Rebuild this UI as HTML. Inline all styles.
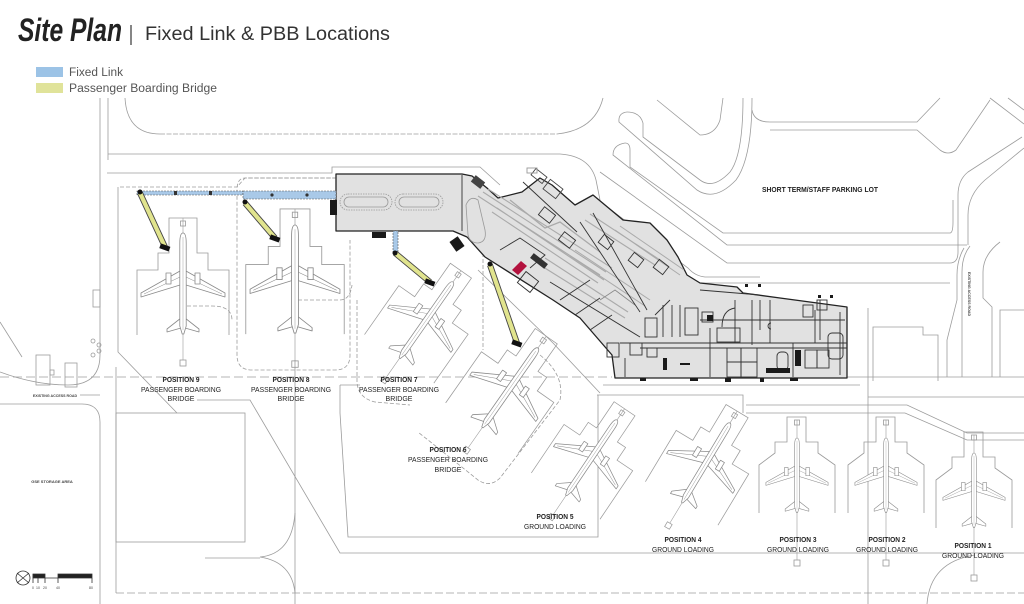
<!DOCTYPE html>
<html><head><meta charset="utf-8">
<style>
html,body{margin:0;padding:0;background:#fff;}
svg{display:block;}
text{font-family:"Liberation Sans",sans-serif;}
</style></head><body>
<svg width="1024" height="604" viewBox="0 0 1024 604" xmlns="http://www.w3.org/2000/svg">
<defs>
 <g id="pl" stroke="#8a8a8a" stroke-width="0.8" fill="#fff" stroke-linejoin="round">
   <path d="M-3,38 L-42,60 L-42,64 L-3,52 Z M3,38 L42,60 L42,64 L3,52 Z"/>
   <path d="M-3,44 L-39,61 M3,44 L39,61" fill="none" stroke-width="0.5"/>
   <rect x="-17" y="40" width="5" height="11"/><rect x="12" y="40" width="5" height="11"/>
   <path d="M-2,85 L-16,96 L-16,99 L-2,95 Z M2,85 L16,96 L16,99 L2,95 Z"/>
   <path d="M-3.2,10 Q-3.2,0 0,0 Q3.2,0 3.2,10 L3.2,93 L0.8,101 L-0.8,101 L-3.2,93 Z"/>
   <path d="M0,4 V97" fill="none" stroke-width="0.4"/>
 </g>
 <g id="st" fill="none" stroke="#9a9a9a" stroke-width="0.8">
   <path d="M-46,102 V37 H-25 V20 H-14 V-15 H14 V20 H25 V37 H46 V102"/>
   <path d="M0,-15 V127" stroke-width="0.6"/>
   <rect x="-2.5" y="-12" width="5" height="5"/>
   <rect x="-3" y="127" width="6" height="6"/>
 </g>
 <g id="st2" fill="none" stroke="#9a9a9a" stroke-width="0.8">
   <path d="M-38,75 V27 L-22,15 V4 H-10 V-21 H9 V4 H21 V15 L38,27 V75"/>
   <path d="M0,-18 V122" stroke-width="0.6"/>
   <rect x="-2.5" y="-18" width="5" height="5"/>
   <rect x="-3" y="122" width="6" height="6"/>
 </g>
</defs>

<!-- Title -->
<text x="18" y="41" font-family="Liberation Serif, serif" font-style="italic" font-weight="bold" font-size="32" fill="#222" textLength="104" lengthAdjust="spacingAndGlyphs">Site Plan</text>
<line x1="131" y1="25" x2="131" y2="45" stroke="#444" stroke-width="1.3"/>
<text x="145" y="40" font-size="19" fill="#333" textLength="245" lengthAdjust="spacingAndGlyphs">Fixed Link &amp; PBB Locations</text>

<!-- Legend -->
<rect x="36" y="67" width="27" height="10" fill="#9cc3e6"/>
<text x="69" y="76" font-size="11.5" fill="#555" textLength="54" lengthAdjust="spacingAndGlyphs">Fixed Link</text>
<rect x="36" y="83" width="27" height="10" fill="#e0e39a"/>
<text x="69" y="92" font-size="11.5" fill="#555" textLength="148" lengthAdjust="spacingAndGlyphs">Passenger Boarding Bridge</text>

<!-- Site lines -->
<g fill="none" stroke="#9c9c9c" stroke-width="0.8">
  <path d="M100,98 V355 Q100,385 68,385 Q35,385 0,372"/>
  <path d="M108,98 V160"/>
  <path d="M125,98 Q127,134 160,134"/>
  <path d="M160,134 H557" stroke-dasharray="5,1.5"/>
  <path d="M557,134 Q595,130 603,98"/>
  <path d="M108,154 H560 Q590,156 596,180 L600,200"/>
  <path d="M107,173 H332 V167 H480 L500,185"/>
  <path d="M120,187 H237 L245,178 H335" stroke-dasharray="4,2"/>
  <path d="M118,187 V352 L177,413"/>
  <rect x="116" y="413" width="129" height="129"/>
  <path d="M116,367 V593"/>
  <path d="M116,593 H1024" stroke-dasharray="8,3"/>
  <path d="M295,360 V604"/>
  <path d="M197,400 H250 L340,553 H1024"/>
  <path d="M340,385 H360 M340,385 V413 L348,537 H598 V395"/>
  <path d="M295,513 Q292,554 260,557 Q292,562 295,593 M205,558 H260"/>
  <path d="M0,404 H82 Q100,404 100,422 V604"/>
  <path d="M0,377 H612" stroke-dasharray="9,4"/>
  <path d="M0,322 L22,357"/>
  <rect x="36" y="355" width="14" height="30"/>
  <rect x="65" y="363" width="12" height="24"/>
  <rect x="50" y="370" width="4" height="5"/>
  <rect x="93" y="290" width="7" height="17"/>
  <circle cx="93" cy="341" r="2"/><circle cx="99" cy="345" r="2"/><circle cx="99" cy="351" r="2"/><circle cx="93" cy="355" r="2"/>
  <path d="M80,395 H100"/>
  <path d="M337,178 H245 Q237,178 237,190 V355 Q237,370 252,370 H335 Q350,370 350,355 V240" stroke-dasharray="4,2"/>
  <path d="M187,306 H212 Q232,306 232,320" stroke-dasharray="4,2"/>
  <path d="M298,300 H340 Q350,300 352,285" stroke-dasharray="4,2"/>
  <path d="M540,355 Q565,375 560,400 L500,478 Q490,488 478,480 L418,432" stroke-dasharray="4,2"/>
  <path d="M357,300 V382 Q358,398 375,402 L410,405" stroke-dasharray="4,2"/>
  <path d="M483,235 V350" stroke-dasharray="4,2"/>
  <path d="M478,270 L553,343 L600,393"/>
  <path d="M603,385 H860"/>
  <path d="M597,395 H743 V413"/>
  <path d="M746,405 H907 L967,433 H1024"/>
  <path d="M746,413 H905 L967,440 H1024"/>
  <path d="M847,377 H1024"/>
  <path d="M868,397 H1024"/>
  <path d="M868,308 V604"/>
  <path d="M927,604 Q930,562 975,555"/>
  <path d="M873,381 V327 H923 V335 H938 V381"/>
  <path d="M1000,377 V310 H1024"/>
  <path d="M947,377 V340 L957,300 V275 Q957,260 964,248"/>
  <path d="M962,377 V272 Q962,256 970,246"/>
  <path d="M992,377 V307 L983,298 V272 Q983,255 1000,242"/>
  <path d="M700,283 H950"/>
  <path d="M625,143 Q630,143 630,150 V167 L723,233 H950 Q953,233 953,222 V200"/>
  <path d="M625,143 Q613,145 613,155 L727,245 H967"/>
  <path d="M600,172 L727,263 H950 Q958,263 958,252 V195 Q958,180 968,172 L1022,137"/>
  <path d="M598,200 L688,268 Q695,276 705,277 H760"/>
  <path d="M643,123 V137 L700,180 Q713,190 730,172 Q743,155 743,98"/>
  <path d="M627,112 Q618,113 619,122 L697,190 Q715,202 736,180 Q752,158 752,98"/>
  <path d="M627,112 Q640,112 643,123"/>
  <path d="M657,100 L700,135 Q715,135 720,120 L723,98"/>
  <path d="M752,110 Q754,122 770,122 H917 L940,98"/>
  <path d="M770,130 H917 L940,150 Q948,156 956,150 L990,100"/>
  <path d="M990,98 L1024,124 M1008,98 L1024,110"/>
  <path d="M1024,148 L985,180 Q968,195 968,215 V245"/>
</g>

<!-- scale bar -->
<g stroke="#333" fill="none" stroke-width="0.8">
  <circle cx="23" cy="578" r="7"/>
  <path d="M17,573 L29,583 M29,573 L17,583"/>
  <path d="M33,574 H45 V578 H33 Z" fill="#222"/>
  <path d="M45,578 H58 V574 H92 V578 Z" fill="#222"/>
  <path d="M33,574 V583 M38,578 V583 M45,578 V583 M58,578 V583 M92,578 V583"/>
</g>
<g font-size="3.5" fill="#444">
  <text x="32" y="589">0</text><text x="36" y="589">10</text><text x="43" y="589">20</text><text x="56" y="589">40</text><text x="89" y="589">80</text>
</g>
<text x="52" y="483" font-size="4" fill="#444" text-anchor="middle" font-weight="bold">GSE STORAGE AREA</text>
<text x="55" y="397" font-size="3.6" fill="#444" text-anchor="middle" font-weight="bold">EXISTING ACCESS ROAD</text>
<text x="968" y="294" font-size="3.6" fill="#444" text-anchor="middle" font-weight="bold" transform="rotate(90 968 294)">EXISTING ACCESS ROAD</text>

<!-- Stands & planes -->
<use href="#st" transform="translate(183,233)"/>
<use href="#pl" transform="translate(183,233)"/>
<use href="#st" transform="translate(295,225) scale(1.07)"/>
<use href="#pl" transform="translate(295,225) scale(1.07)"/>
<use href="#st" transform="translate(453,282) rotate(35) scale(0.92)"/>
<use href="#pl" transform="translate(453,282) rotate(35) scale(0.92)"/>
<use href="#st" transform="translate(538,348) rotate(35) scale(0.96)"/>
<use href="#pl" transform="translate(538,348) rotate(35) scale(0.96)"/>
<use href="#st" transform="translate(617,420) rotate(34) scale(0.9)"/>
<use href="#pl" transform="translate(617,420) rotate(34) scale(0.9)"/>
<use href="#st" transform="translate(730,423) rotate(31) scale(0.92)"/>
<use href="#pl" transform="translate(730,423) rotate(31) scale(0.92)"/>
<use href="#st2" transform="translate(797,438)"/>
<use href="#pl" transform="translate(797,438) scale(0.74)"/>
<use href="#st2" transform="translate(886,438)"/>
<use href="#pl" transform="translate(886,438) scale(0.74)"/>
<use href="#st2" transform="translate(974,453)"/>
<use href="#pl" transform="translate(974,453) scale(0.74)"/>

<!-- Building -->
<polygon points="336,174 462,174 472,176 487,188 498,198 522,192 540,178 552,185 575,205 593,195 623,220 650,223 667,240 678,257 687,275 700,283 737,287 743,293 780,298 847,307 847,378 615,378 612,355 580,318 553,300 485,257 467,237 453,231 336,231" fill="#e1e1e1" stroke="#222" stroke-width="1.3" stroke-linejoin="round"/>
<g fill="none" stroke="#999" stroke-width="0.8">
  <rect x="340" y="194" width="52" height="16" rx="8" stroke-dasharray="1.5,1"/>
  <rect x="344" y="197" width="44" height="10" rx="5"/>
  <rect x="395" y="194" width="48" height="16" rx="8" stroke-dasharray="1.5,1"/>
  <rect x="399" y="197" width="40" height="10" rx="5"/>
  <path d="M466,205 Q470,195 478,200 L485,230 Q487,242 478,243 Q470,243 468,235 Z"/>
  <path d="M478,196 L600,275 M483,192 L606,272 M488,189 L612,268 M492,212 L598,283 M497,208 L604,280" stroke="#aaa" stroke-width="1.1"/>
  <path d="M510,200 L545,228 L560,222 L600,252" stroke="#aaa" stroke-width="1.3"/>
  <path d="M540,265 L625,318 M545,258 L628,312 M585,220 L655,265 M590,214 L660,260" stroke="#aaa" stroke-width="1.1"/>
  <path d="M575,250 L650,300 M570,256 L645,306 M615,230 L680,275 M620,226 L684,270" stroke="#aaa" stroke-width="1"/>
  <path d="M600,300 L615,290 L635,305" stroke="#888"/>
</g>
<g fill="none" stroke="#333" stroke-width="0.9">
  <path d="M462,175 V231"/>
  <path d="M523,182 L577,232"/>
  <path d="M550,282 L640,337"/>
  <path d="M593,213 L647,310"/>
  <path d="M580,222 L640,312"/>
  <path d="M500,250 L520,238 L545,255 L530,268"/>
  <path d="M560,300 L590,280 M575,315 L600,298 M590,330 L612,315"/>
  <path d="M625,358 V377 M620,343 H847 M640,348 H847"/>
  <path d="M710,328 V377 M793,343 V377 M735,300 V343 M770,300 V343 M815,310 V343 M700,320 H845"/>
  <rect x="685" y="308" width="13" height="27"/>
  <rect x="702" y="312" width="11" height="10"/>
  <path d="M722,327 Q722,310 735,308"/>
  <rect x="717" y="328" width="23" height="14"/>
  <path d="M663,305 V337 M672,305 V337 M680,305 V337"/>
  <rect x="645" y="318" width="12" height="19"/>
  <rect x="647" y="348" width="10" height="9"/>
  <rect x="727" y="348" width="14" height="14"/>
  <rect x="741" y="348" width="16" height="14"/>
  <rect x="727" y="362" width="14" height="15"/>
  <rect x="741" y="362" width="16" height="15"/>
  <rect x="777" y="352" width="11" height="18" rx="4"/>
  <rect x="805" y="350" width="12" height="18"/>
  <rect x="817" y="350" width="12" height="18"/>
  <rect x="803" y="305" width="10" height="12"/>
  <rect x="817" y="300" width="10" height="10"/>
  <rect x="828" y="333" width="15" height="26" rx="4"/>
  <path d="M771,323 A3,3 0 1 0 771,329"/>
  <rect x="607" y="343" width="12" height="14"/>
  <rect x="630" y="343" width="12" height="12"/>
  <path d="M655,315 L670,300 M700,290 L760,295 M752,300 V345 M760,300 V330 M820,300 V340 M840,312 V375"/>
  <rect x="540" y="210" width="14" height="10" transform="rotate(38 547 215)"/>
  <rect x="560" y="235" width="14" height="10" transform="rotate(38 567 240)"/>
  <rect x="520" y="275" width="16" height="14" transform="rotate(38 528 282)"/>
  <rect x="600" y="237" width="12" height="10" transform="rotate(38 606 242)"/>
  <rect x="630" y="255" width="12" height="10" transform="rotate(38 636 260)"/>
  <rect x="655" y="262" width="12" height="10" transform="rotate(38 661 267)"/>
</g>
<g fill="#1a1a1a">
  <rect x="766" y="368" width="24" height="5"/>
  <rect x="795" y="350" width="6" height="16"/>
  <rect x="663" y="358" width="4" height="12"/>
  <rect x="680" y="363" width="10" height="2"/>
  <rect x="707" y="315" width="6" height="6"/>
  <rect x="330" y="200" width="7" height="15"/>
  <rect x="372" y="232" width="14" height="6"/>
  <rect x="452" y="238" width="10" height="12" transform="rotate(-35 457 244)"/>
  <rect x="472" y="178" width="12" height="8" transform="rotate(38 478 182)" fill="#444"/>
  <rect x="530" y="258" width="18" height="6" transform="rotate(38 539 261)" fill="#333"/>
  <rect x="640" y="378" width="6" height="3"/><rect x="690" y="378" width="8" height="3"/><rect x="725" y="378" width="6" height="4"/><rect x="760" y="378" width="4" height="4"/><rect x="790" y="378" width="8" height="3"/>
  <rect x="745" y="284" width="3" height="3"/><rect x="758" y="284" width="3" height="3"/><rect x="818" y="295" width="3" height="3"/><rect x="830" y="295" width="3" height="3"/>
</g>
<polygon points="512,270 521,261 527,266 518,275" fill="#b3123e"/>
<g fill="none" stroke="#444" stroke-width="0.9">
  <rect x="532" y="172" width="14" height="8" transform="rotate(38 539 176)"/>
  <rect x="545" y="183" width="16" height="12" transform="rotate(38 553 189)"/>
  <rect x="527" y="168" width="10" height="5" stroke="#999"/>
</g>

<!-- Fixed links -->
<rect x="137" y="191" width="106" height="4" fill="#a9c9e8" stroke="#555" stroke-width="0.6" stroke-dasharray="2,1"/>
<rect x="243" y="191" width="93" height="8" fill="#a9c9e8" stroke="#555" stroke-width="0.6" stroke-dasharray="2,1"/>
<rect x="393" y="231" width="5" height="21" fill="#a9c9e8" stroke="#555" stroke-width="0.6" stroke-dasharray="2,1"/>
<g fill="#333"><rect x="174" y="191" width="3" height="4"/><rect x="209" y="191" width="3" height="4"/><circle cx="272" cy="195" r="1.6"/><circle cx="307" cy="195" r="1.6"/></g>

<!-- PBBs -->
<g stroke-linecap="butt">
  <line x1="140" y1="193" x2="165" y2="247" stroke="#444" stroke-width="6"/>
  <line x1="140" y1="193" x2="165" y2="247" stroke="#e1e48e" stroke-width="4.2"/>
  <line x1="245" y1="203" x2="275" y2="238" stroke="#444" stroke-width="6"/>
  <line x1="245" y1="203" x2="275" y2="238" stroke="#e1e48e" stroke-width="4.2"/>
  <line x1="395" y1="253" x2="430" y2="282" stroke="#444" stroke-width="6"/>
  <line x1="395" y1="253" x2="430" y2="282" stroke="#e1e48e" stroke-width="4.2"/>
  <line x1="490" y1="265" x2="517" y2="343" stroke="#444" stroke-width="6"/>
  <line x1="490" y1="265" x2="517" y2="343" stroke="#e1e48e" stroke-width="4.2"/>
</g>
<g fill="#111">
  <circle cx="140" cy="192" r="2.5"/><rect x="160" y="245" width="10" height="5" transform="rotate(20 165 247)"/>
  <circle cx="245" cy="202" r="2.5"/><rect x="270" y="236" width="10" height="5" transform="rotate(20 275 238)"/>
  <circle cx="395" cy="253" r="2.5"/><rect x="425" y="280" width="10" height="5" transform="rotate(20 430 282)"/>
  <circle cx="490" cy="264" r="2.5"/><rect x="512" y="341" width="10" height="5" transform="rotate(20 517 343)"/>
</g>

<!-- Labels -->
<g font-size="7.5" fill="#222" text-anchor="middle">
  <g font-weight="bold">
    <text x="181" y="382" textLength="37" lengthAdjust="spacingAndGlyphs">POSITION 9</text>
    <text x="291" y="382" textLength="37" lengthAdjust="spacingAndGlyphs">POSITION 8</text>
    <text x="399" y="382" textLength="37" lengthAdjust="spacingAndGlyphs">POSITION 7</text>
    <text x="448" y="452" textLength="37" lengthAdjust="spacingAndGlyphs">POSITION 6</text>
    <text x="555" y="519" textLength="37" lengthAdjust="spacingAndGlyphs">POSITION 5</text>
    <text x="683" y="542" textLength="37" lengthAdjust="spacingAndGlyphs">POSITION 4</text>
    <text x="798" y="542" textLength="37" lengthAdjust="spacingAndGlyphs">POSITION 3</text>
    <text x="887" y="542" textLength="37" lengthAdjust="spacingAndGlyphs">POSITION 2</text>
    <text x="973" y="548" textLength="37" lengthAdjust="spacingAndGlyphs">POSITION 1</text>
    <text x="820" y="192" textLength="116" lengthAdjust="spacingAndGlyphs">SHORT TERM/STAFF PARKING LOT</text>
  </g>
  <text x="181" y="392" textLength="80" lengthAdjust="spacingAndGlyphs">PASSENGER BOARDING</text>
  <text x="181" y="401" textLength="27" lengthAdjust="spacingAndGlyphs">BRIDGE</text>
  <text x="291" y="392" textLength="80" lengthAdjust="spacingAndGlyphs">PASSENGER BOARDING</text>
  <text x="291" y="401" textLength="27" lengthAdjust="spacingAndGlyphs">BRIDGE</text>
  <text x="399" y="392" textLength="80" lengthAdjust="spacingAndGlyphs">PASSENGER BOARDING</text>
  <text x="399" y="401" textLength="27" lengthAdjust="spacingAndGlyphs">BRIDGE</text>
  <text x="448" y="462" textLength="80" lengthAdjust="spacingAndGlyphs">PASSENGER BOARDING</text>
  <text x="448" y="472" textLength="27" lengthAdjust="spacingAndGlyphs">BRIDGE</text>
  <text x="555" y="529" textLength="62" lengthAdjust="spacingAndGlyphs">GROUND LOADING</text>
  <text x="683" y="552" textLength="62" lengthAdjust="spacingAndGlyphs">GROUND LOADING</text>
  <text x="798" y="552" textLength="62" lengthAdjust="spacingAndGlyphs">GROUND LOADING</text>
  <text x="887" y="552" textLength="62" lengthAdjust="spacingAndGlyphs">GROUND LOADING</text>
  <text x="973" y="558" textLength="62" lengthAdjust="spacingAndGlyphs">GROUND LOADING</text>
</g>
</svg>
</body></html>
